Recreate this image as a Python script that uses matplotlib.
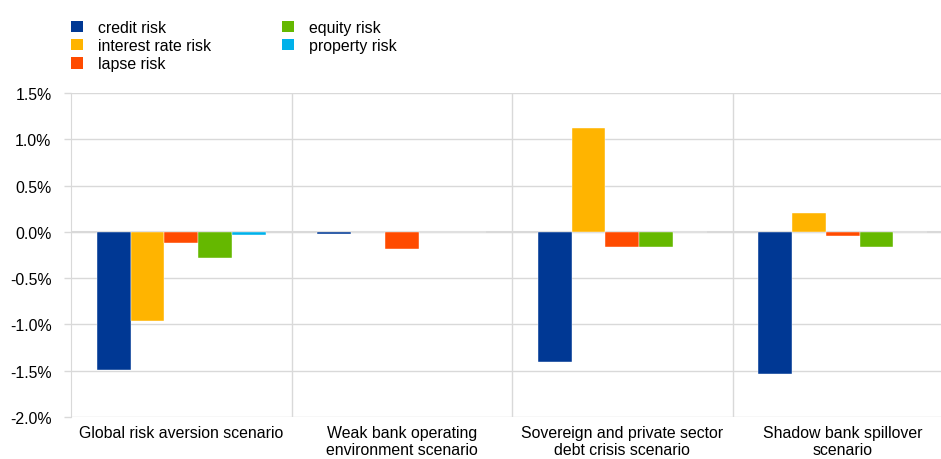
import numpy as np
import matplotlib.pyplot as plt
from matplotlib.patches import Patch

plt.rcParams['font.family'] = ['Liberation Sans', 'DejaVu Sans']

# scenarios and risk contributions (percent)
scenarios = ["Global risk aversion scenario",
             "Weak bank operating\nenvironment scenario",
             "Sovereign and private sector\ndebt crisis scenario",
             "Shadow bank spillover\nscenario"]
risks = ["credit risk", "interest rate risk", "lapse risk", "equity risk", "property risk"]
credit = [-1.49, -0.02, -1.41, -1.54]
interest = [-0.96, 0.0, 1.12, 0.20]
lapse = [-0.12, -0.18, -0.16, -0.04]
equity = [-0.28, 0.0, -0.16, -0.16]
prop = [-0.035, 0.0, 0.0, 0.0]
colours = ["#003894", "#FFB400", "#FF4B00", "#65B800", "#00B1EA"]

series = [credit, interest, lapse, equity, prop]

fig = plt.figure(figsize=(9.41, 4.6), dpi=100)
ax = fig.add_axes([71/941, 42/460, 882/941, 324/460])

x = np.arange(len(scenarios))
w = 0.153
for i, vals in enumerate(series):
    ax.bar(x + (i - 2) * w, vals, w, color=colours[i], edgecolor='white', linewidth=0.3, zorder=3)

fs = 11.4
ax.set_xlim(-0.5, len(scenarios) - 0.5)
ax.set_ylim(-2.0, 1.5)
ax.set_yticks(np.arange(-2.0, 1.51, 0.5))
ax.set_yticklabels(["%.1f%%" % v for v in np.arange(-2.0, 1.51, 0.5)], fontsize=fs)
ax.set_xticks(x)
ax.set_xticklabels(scenarios, fontsize=fs, linespacing=1.15)
ax.tick_params(axis='x', length=0, pad=6)
ax.tick_params(axis='y', length=5, color='#d9d9d9', width=1, pad=9)
ax.grid(axis='y', color='#d9d9d9', linewidth=1, zorder=0)
for b in np.arange(0.5, len(scenarios) - 0.5, 1):
    ax.axvline(b, color='#d9d9d9', linewidth=1, zorder=0)
ax.axhline(0, color='#d9d9d9', linewidth=1.5, zorder=2)
for s in ['top', 'right', 'bottom']:
    ax.spines[s].set_visible(False)
ax.spines['left'].set_color('#d9d9d9')

handles = [Patch(facecolor=c, label=r) for c, r in zip(colours, risks)]
fig.legend(handles=handles, loc='upper left', bbox_to_anchor=(63/941, 1 - 13/460), ncol=2,
           frameon=False, fontsize=fs, handlelength=0.75, handleheight=0.75,
           handletextpad=0.95, columnspacing=4.5, labelspacing=0.2, borderpad=0)

fig.savefig("out.png", dpi=100)
plt.close(fig)
